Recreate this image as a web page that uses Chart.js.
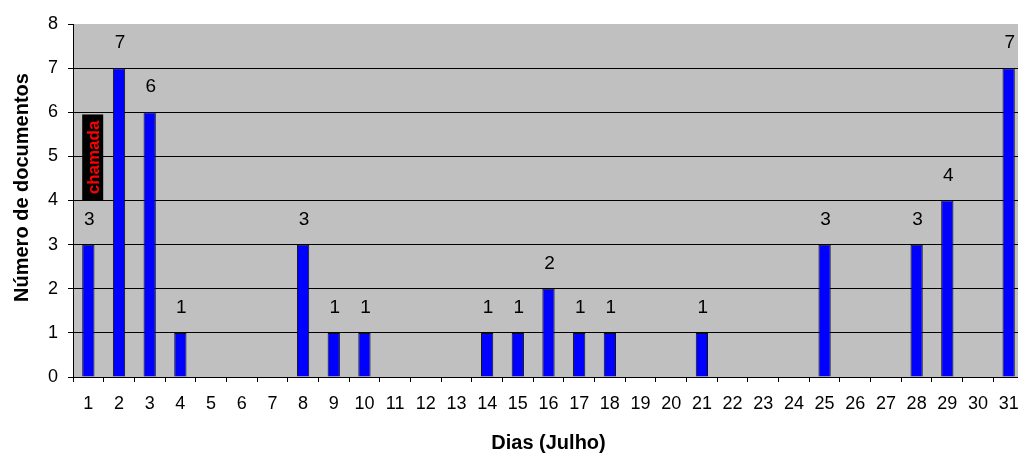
<!DOCTYPE html>
<html>
<head>
<meta charset="utf-8">
<script src="https://cdn.jsdelivr.net/npm/chart.js@4.4.0/dist/chart.umd.min.js"></script>
<style>
    html, body { margin: 0; padding: 0; background: #fff; overflow: hidden; }
    #wrap { width: 1024px; height: 455px; position: relative; }
</style>
</head>
<body>
<div id="wrap"><canvas id="docsChart"></canvas></div>
<script>
const days = ['1','2','3','4','5','6','7','8','9','10','11','12','13','14','15','16',
    '17','18','19','20','21','22','23','24','25','26','27','28','29','30','31'];
const documentos = [3, 7, 6, 1, 0, 0, 0, 3, 1, 1, 0, 0, 0, 1, 1, 2,
    1, 1, 0, 0, 1, 0, 0, 0, 3, 0, 0, 3, 4, 0, 7];
const yTicks = [0, 1, 2, 3, 4, 5, 6, 7, 8];
const yTitle = 'Número de documentos';
const calloutText = 'chamada';
const calloutRange = [4, 5.95];

const FONT = '"Liberation Sans", Arial, sans-serif';

// gray plot background
const plotBackground = {
    id: 'plotBackground',
    beforeDraw(chart) {
        const { ctx, chartArea } = chart;
        ctx.save();
        ctx.fillStyle = '#c0c0c0';
        ctx.fillRect(chartArea.left, chartArea.top, chartArea.right - chartArea.left, chartArea.bottom - chartArea.top);
        ctx.restore();
    }
};

// value labels above non-zero bars, the "chamada" callout and the y title
const barLabels = {
    id: 'barLabels',
    afterDatasetsDraw(chart) {
        const { ctx, chartArea } = chart;
        const meta = chart.getDatasetMeta(0);
        ctx.save();
        ctx.font = '19px ' + FONT;
        ctx.fillStyle = '#000';
        ctx.textAlign = 'center';
        ctx.textBaseline = 'alphabetic';
        meta.data.forEach((bar, i) => {
            if (documentos[i] > 0) {
                ctx.fillText(String(documentos[i]), bar.x + 1, bar.y - 20);
            }
        });

        const first = meta.data[0];
        const y = chart.scales.y;
        const x0 = first.x - first.width / 2;
        const top = y.getPixelForValue(calloutRange[1]);
        const bottom = y.getPixelForValue(calloutRange[0]);
        ctx.fillStyle = '#000';
        ctx.fillRect(x0, top, 21, bottom - top);
        ctx.save();
        ctx.translate(x0 + 12, (top + bottom) / 2);
        ctx.rotate(-Math.PI / 2);
        ctx.fillStyle = '#ff0000';
        ctx.font = 'bold 17px ' + FONT;
        ctx.textBaseline = 'middle';
        ctx.fillText(calloutText, 0, 0);
        ctx.restore();

        // y axis title, sits a little above the plot centre like the original
        ctx.translate(22, (chartArea.top + chartArea.bottom) / 2 - 13);
        ctx.rotate(-Math.PI / 2);
        ctx.fillStyle = '#000';
        ctx.font = 'bold 20px ' + FONT;
        ctx.textBaseline = 'middle';
        ctx.fillText(yTitle, 0, 0);
        ctx.restore();
    }
};

new Chart(document.getElementById('docsChart').getContext('2d'), {
    type: 'bar',
    data: {
        labels: days,
        datasets: [{
            data: documentos,
            backgroundColor: '#0000ff',
            borderColor: '#111',
            borderWidth: 1,
            barPercentage: 0.4,
            categoryPercentage: 1.0
        }]
    },
    options: {
        responsive: true,
        maintainAspectRatio: false,
        animation: false,
        layout: { padding: { top: 24, right: 0, left: 0, bottom: 0 } },
        plugins: {
            legend: { display: false },
            tooltip: { enabled: false }
        },
        scales: {
            x: {
                afterFit(scale) {
                    scale.height = 78;
                    scale.paddingLeft = 0;
                    scale.paddingRight = 0;
                },
                grid: {
                    display: true,
                    drawOnChartArea: false,
                    offset: true,
                    tickLength: 5,
                    tickColor: '#000'
                },
                border: { color: '#000', width: 1 },
                ticks: {
                    color: '#000',
                    padding: 11,
                    maxRotation: 0,
                    autoSkip: false,
                    font: { family: FONT, size: 18 }
                },
                title: {
                    display: true,
                    text: 'Dias (Julho)',
                    color: '#000',
                    padding: { top: 0, bottom: 0 },
                    font: { family: FONT, size: 20, weight: 'bold' }
                }
            },
            y: {
                min: 0,
                max: 8,
                afterFit(scale) { scale.width = 73; },
                afterBuildTicks(scale) { scale.ticks = yTicks.map(v => ({ value: v })); },
                grid: {
                    color: ctx => (ctx.tick && ctx.tick.value === 8) ? 'rgba(0,0,0,0)' : '#000',
                    tickColor: '#000',
                    tickLength: 5,
                    lineWidth: 1
                },
                border: { color: '#000', width: 1 },
                ticks: {
                    color: '#000',
                    padding: 10,
                    font: { family: FONT, size: 18 }
                },
                title: { display: false }
            }
        }
    },
    plugins: [plotBackground, barLabels]
});
</script>
</body>
</html>
